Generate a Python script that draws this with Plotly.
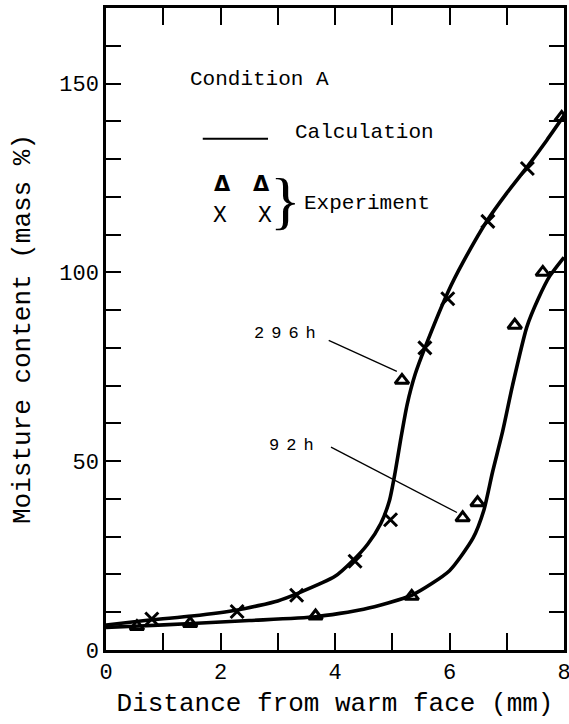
import plotly.graph_objects as go

# ---- data ----
# calculated curves
calc296_x = [0, 0.8, 1.5, 2.3, 3.0, 3.35, 4.0, 4.3, 4.57, 4.8, 4.95, 5.05, 5.15, 5.26, 5.4, 5.57, 5.98, 6.23, 6.67, 7.0, 7.36, 7.7, 8.0]
calc296_y = [6.6, 8.0, 9.0, 10.6, 13.0, 15.0, 19.5, 23.5, 28.0, 33.5, 39.5, 47.0, 56.0, 65.0, 73.0, 80.0, 95.0, 102.5, 114.0, 121.0, 128.0, 135.0, 141.5]
calc92_x = [0, 0.5, 1.5, 2.5, 3.66, 4.5, 5.34, 6.0, 6.41, 6.6, 6.75, 6.93, 7.1, 7.35, 7.55, 7.75, 8.0]
calc92_y = [6.0, 6.3, 7.0, 7.8, 8.8, 10.8, 14.5, 21.0, 29.6, 37.0, 47.0, 58.0, 70.0, 85.5, 93.0, 99.0, 104.0]

# experimental points
exp296_cross_x = [0.8, 2.29, 3.33, 4.35, 4.97, 5.57, 5.97, 6.67, 7.36]
exp296_cross_y = [8.2, 10.2, 14.5, 23.5, 34.5, 80.0, 93.0, 113.5, 127.5]
exp296_tri_x = [5.17, 7.96]
exp296_tri_y = [71.4, 141.0]
exp92_tri_x = [0.54, 1.47, 3.66, 5.34, 6.23, 6.49, 7.14, 7.63]
exp92_tri_y = [6.2, 7.0, 9.0, 14.2, 35.0, 39.0, 86.0, 100.0]

x_title = "Distance from warm face (mm)"
y_title = "Moisture content (mass %)"

FONT = "Liberation Mono"

fig = go.Figure()
line_style = dict(color="black", width=3.6, shape="spline", smoothing=0.6)
fig.add_trace(go.Scatter(x=calc296_x, y=calc296_y, mode="lines", line=line_style, name="296h calc"))
fig.add_trace(go.Scatter(x=calc92_x, y=calc92_y, mode="lines", line=line_style, name="92h calc"))

fig.add_trace(go.Scatter(x=exp296_cross_x, y=exp296_cross_y, mode="markers",
                         marker=dict(symbol="x-thin-open", size=13, color="black",
                                     line=dict(color="black", width=3)),
                         name="296h exp X"))
tri = dict(symbol="triangle-up-open", size=12, color="black", line=dict(color="black", width=3))
fig.add_trace(go.Scatter(x=exp296_tri_x, y=exp296_tri_y, mode="markers", marker=tri, name="296h exp"))
fig.add_trace(go.Scatter(x=exp92_tri_x, y=exp92_tri_y, mode="markers", marker=tri, name="92h exp"))

# legend-like drawing
fig.add_shape(type="line", x0=1.69, x1=2.83, y0=135.4, y1=135.4, xref="x", yref="y",
              line=dict(color="black", width=2))
# leader lines
fig.add_shape(type="line", x0=3.89, y0=82.0, x1=5.08, y1=73.8, line=dict(color="black", width=1.3))
fig.add_shape(type="line", x0=3.93, y0=53.7, x1=6.13, y1=36.4, line=dict(color="black", width=1.3))

def txt(x, y, s, size=21, anchor="left", family=FONT):
    fig.add_annotation(x=x, y=y, xref="x", yref="y", text=s, showarrow=False,
                       xanchor=anchor, yanchor="middle",
                       font=dict(family=family, size=size, color="black"))

txt(1.43, 151, "Condition A")
txt(3.26, 137, "Calculation")
txt(2.04, 123.5, "<b>Δ</b>", size=21, anchor="center", family="DejaVu Sans")
txt(2.72, 123.5, "<b>Δ</b>", size=21, anchor="center", family="DejaVu Sans")
txt(1.99, 115, "X", size=23, anchor="center")
txt(2.77, 115, "X", size=23, anchor="center")
txt(3.13, 119.0, "}", size=64, anchor="center", family="Liberation Serif")
txt(3.42, 118.3, "Experiment")
txt(3.18, 83.9, '<span style="letter-spacing:7px">296h</span>', size=17, anchor="center")
txt(3.30, 54.2, '<span style="letter-spacing:7px">92h</span>', size=17, anchor="center")

axis_common = dict(showline=True, linecolor="black", linewidth=2.5, mirror="allticks",
                   ticks="inside", tickcolor="black", tickwidth=1.5, showgrid=False,
                   zeroline=False, automargin=False, ticklabeloverflow="allow",
                   tickfont=dict(family=FONT, size=22, color="black"))

fig.update_xaxes(range=[0, 8], tick0=0, dtick=2, ticklen=17,
                 minor=dict(dtick=1, ticks="inside", ticklen=17, tickcolor="black", tickwidth=1.5, showgrid=False),
                 title=dict(text=x_title, font=dict(family=FONT, size=26, color="black"), standoff=8),
                 **axis_common)
fig.update_yaxes(range=[0, 170], tick0=0, dtick=50, ticklen=15,
                 minor=dict(dtick=10, ticks="inside", ticklen=15, tickcolor="black", tickwidth=1.5, showgrid=False),
                 title=dict(text=y_title, font=dict(family=FONT, size=26, color="black"), standoff=22),
                 **axis_common)

fig.update_layout(width=569, height=724, margin=dict(l=106, r=5, t=8, b=74),
                  paper_bgcolor="white", plot_bgcolor="white", showlegend=False)

fig.write_html("out.html", config={"displayModeBar": False},
               post_script="document.body.style.margin='0';")
